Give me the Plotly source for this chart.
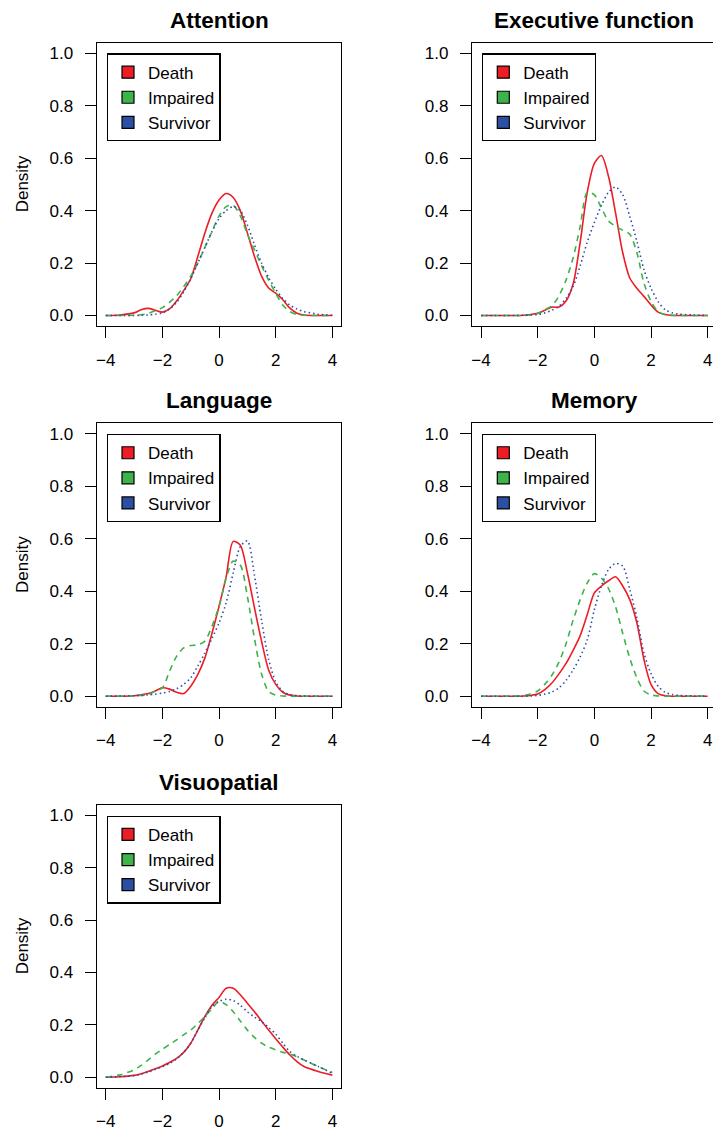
import plotly.graph_objects as go

FONT = "Liberation Sans, Arial, Helvetica, sans-serif"

# ---------------- data ----------------
panel_titles = ["Attention", "Executive function", "Language", "Memory", "Visuopatial"]
groups = ["Death", "Impaired", "Survivor"]
group_colors = ["#EE1C25", "#3DB34A", "#2D4FA3"]

x_grid = [-4, -3.5, -3, -2.75, -2.5, -2.25, -2, -1.75, -1.5, -1.25, -1, -0.75, -0.5, -0.25,
          0, 0.25, 0.5, 0.75, 1, 1.25, 1.5, 1.75, 2, 2.25, 2.5, 2.75, 3, 3.5, 4]

att_death    = [0, 0.002, 0.010, 0.022, 0.027, 0.020, 0.013, 0.025, 0.055, 0.095, 0.14, 0.225, 0.315, 0.39,
                0.44, 0.465, 0.45, 0.40, 0.315, 0.225, 0.15, 0.105, 0.085, 0.06, 0.028, 0.009, 0.002, 0, 0]
att_impaired = [0, 0, 0.001, 0.003, 0.008, 0.018, 0.03, 0.05, 0.075, 0.11, 0.15, 0.2, 0.26, 0.32,
                0.38, 0.415, 0.42, 0.38, 0.31, 0.25, 0.19, 0.135, 0.085, 0.04, 0.015, 0.004, 0.001, 0, 0]
att_survivor = [0, 0, 0, 0.001, 0.002, 0.005, 0.01, 0.025, 0.05, 0.09, 0.14, 0.2, 0.26, 0.32,
                0.37, 0.40, 0.415, 0.40, 0.345, 0.27, 0.2, 0.145, 0.1, 0.065, 0.04, 0.025, 0.015, 0.005, 0.001]

exe_death    = [0, 0, 0, 0, 0.001, 0.004, 0.009, 0.02, 0.032, 0.032, 0.055, 0.12, 0.28, 0.47,
                0.58, 0.61, 0.53, 0.39, 0.24, 0.143, 0.104, 0.073, 0.04, 0.013, 0.004, 0.001, 0, 0, 0]
exe_impaired = [0, 0, 0, 0, 0, 0.002, 0.008, 0.022, 0.037, 0.075, 0.135, 0.22, 0.34, 0.47,
                0.46, 0.41, 0.36, 0.34, 0.325, 0.31, 0.24, 0.124, 0.054, 0.015, 0.003, 0, 0, 0, 0]
exe_survivor = [0, 0, 0, 0, 0.001, 0.002, 0.004, 0.01, 0.02, 0.035, 0.065, 0.11, 0.19, 0.28,
                0.355, 0.42, 0.47, 0.49, 0.46, 0.378, 0.283, 0.175, 0.104, 0.053, 0.022, 0.01, 0.005, 0.002, 0]

lan_death    = [0, 0, 0.002, 0.005, 0.01, 0.02, 0.032, 0.027, 0.015, 0.01, 0.038, 0.083, 0.146, 0.24,
                0.343, 0.455, 0.59, 0.575, 0.47, 0.337, 0.21, 0.1, 0.045, 0.015, 0.004, 0.001, 0, 0, 0]
lan_impaired = [0, 0, 0.002, 0.003, 0.006, 0.02, 0.032, 0.095, 0.152, 0.184, 0.193, 0.196, 0.21, 0.267,
                0.343, 0.45, 0.515, 0.5, 0.38, 0.22, 0.085, 0.018, 0.004, 0.001, 0, 0, 0, 0, 0]
lan_survivor = [0, 0.001, 0.002, 0.003, 0.005, 0.008, 0.012, 0.018, 0.028, 0.045, 0.07, 0.115, 0.165, 0.22,
                0.28, 0.356, 0.47, 0.57, 0.592, 0.46, 0.29, 0.14, 0.055, 0.018, 0.006, 0.002, 0.001, 0, 0]

mem_death    = [0, 0, 0, 0, 0.001, 0.003, 0.008, 0.025, 0.05, 0.085, 0.125, 0.175, 0.231, 0.311,
                0.394, 0.42, 0.44, 0.455, 0.42, 0.368, 0.28, 0.14, 0.045, 0.01, 0.002, 0, 0, 0, 0]
mem_impaired = [0, 0, 0, 0.001, 0.003, 0.008, 0.02, 0.045, 0.08, 0.13, 0.2, 0.29, 0.368, 0.432,
                0.467, 0.45, 0.41, 0.34, 0.24, 0.145, 0.07, 0.02, 0.005, 0.001, 0, 0, 0, 0, 0]
mem_survivor = [0, 0, 0, 0, 0, 0.001, 0.003, 0.008, 0.016, 0.032, 0.06, 0.1, 0.15, 0.215,
                0.33, 0.42, 0.483, 0.506, 0.496, 0.407, 0.3, 0.165, 0.086, 0.038, 0.015, 0.006, 0.003, 0.001, 0]

vis_death    = [0, 0.002, 0.007, 0.013, 0.022, 0.032, 0.043, 0.056, 0.072, 0.095, 0.13, 0.18, 0.232, 0.275,
                0.305, 0.34, 0.34, 0.315, 0.283, 0.25, 0.215, 0.18, 0.147, 0.115, 0.085, 0.06, 0.041, 0.022, 0.008]
vis_impaired = [0, 0.009, 0.028, 0.045, 0.066, 0.088, 0.107, 0.125, 0.143, 0.162, 0.18, 0.205, 0.232, 0.262,
                0.29, 0.277, 0.25, 0.215, 0.18, 0.152, 0.13, 0.115, 0.105, 0.095, 0.089, 0.078, 0.066, 0.041, 0.018]
vis_survivor = [0, 0.002, 0.006, 0.012, 0.02, 0.03, 0.04, 0.053, 0.07, 0.095, 0.13, 0.18, 0.228, 0.27,
                0.29, 0.298, 0.293, 0.275, 0.25, 0.23, 0.213, 0.19, 0.165, 0.13, 0.098, 0.08, 0.066, 0.041, 0.015]

panel_series = [
    [att_death, att_impaired, att_survivor],
    [exe_death, exe_impaired, exe_survivor],
    [lan_death, lan_impaired, lan_survivor],
    [mem_death, mem_impaired, mem_survivor],
    [vis_death, vis_impaired, vis_survivor],
]

x_tickvals = [-4, -2, 0, 2, 4]
x_ticktext = ["\u22124", "\u22122", "0", "2", "4"]
y_tickvals = [0, 0.2, 0.4, 0.6, 0.8, 1.0]
y_ticktext = ["0.0", "0.2", "0.4", "0.6", "0.8", "1.0"]

# ---------------- layout geometry (pixels) ----------------
W, H = 713, 1131
col_left = [96.7, 472.0]
col_right = [340.7, 713.0]
row_top = [42.7, 423.3, 805.0]
row_bot = [326.0, 706.7, 1087.7]
px_per_unit = (332.3 - 105.7) / 8.0
line_styles = ["solid", "6px,5px", "1.5px,3px"]

fig = go.Figure()
layout_axes = {}
annotations = []

for p, title in enumerate(panel_titles):
    r, c = divmod(p, 2)
    k = "" if p == 0 else str(p + 1)
    xa, ya = "x" + k, "y" + k
    leg = "legend" + k
    x0 = -4.32
    x1 = x0 + (col_right[c] - col_left[c]) / px_per_unit
    for g in range(3):
        fig.add_trace(go.Scatter(
            x=x_grid, y=panel_series[p][g], mode="lines", xaxis=xa, yaxis=ya,
            line=dict(color=group_colors[g], width=1.6, dash=line_styles[g], shape="spline", smoothing=0.8),
            showlegend=False, hoverinfo="skip"))
    for g in range(3):
        fig.add_trace(go.Scatter(
            x=[None], y=[None], mode="markers", xaxis=xa, yaxis=ya, name=groups[g],
            marker=dict(symbol="square", size=12, color=group_colors[g], line=dict(color="black", width=1.2)),
            legend=leg, showlegend=True))
    xdom = [col_left[c] / W, min(col_right[c] / W, 1.0)]
    ydom = [1 - row_bot[r] / H, 1 - row_top[r] / H]
    common = dict(showline=True, linecolor="black", linewidth=1.4, ticks="outside", ticklen=11,
                  tickwidth=1.3, tickcolor="black", showgrid=False, zeroline=False,
                  tickfont=dict(family=FONT, size=17, color="black"), fixedrange=True)
    layout_axes["xaxis" + k] = dict(domain=xdom, range=[x0, x1], anchor=ya, mirror=True,
                                    tickvals=x_tickvals, ticktext=x_ticktext, ticklabelstandoff=7, **common)
    layout_axes["yaxis" + k] = dict(domain=ydom, range=[-0.04, 1.04], anchor=xa, mirror=(c == 0),
                                    tickvals=y_tickvals, ticktext=y_ticktext, ticklabelstandoff=8, **common)
    legend_top = row_top[r] + 10.6
    layout_axes[leg] = dict(x=(col_left[c] + 10.0) / W, y=1 - legend_top / H, xanchor="left", yanchor="top",
                            bgcolor="white", bordercolor="black", borderwidth=1.3,
                            font=dict(family=FONT, size=17, color="black"), tracegroupgap=0,
                            entrywidth=82, entrywidthmode="pixels",
                            itemclick=False, itemdoubleclick=False)
    cx = (col_left[c] + (col_left[c] + 8.64 * px_per_unit)) / 2
    annotations.append(dict(text="<b>" + title + "</b>", x=cx / W, y=1 - (row_top[r] - 22.5) / H,
                            xref="paper", yref="paper", showarrow=False, xanchor="center", yanchor="middle",
                            font=dict(family=FONT, size=22.5, color="black")))
    if c == 0:
        annotations.append(dict(text="Density", x=22 / W, y=1 - (row_top[r] + row_bot[r]) / 2 / H,
                                xref="paper", yref="paper", showarrow=False, textangle=-90,
                                xanchor="center", yanchor="middle",
                                font=dict(family=FONT, size=17, color="black")))

fig.update_layout(width=W, height=H, margin=dict(l=0, r=0, t=0, b=0, pad=0),
                  paper_bgcolor="white", plot_bgcolor="white", annotations=annotations,
                  font=dict(family=FONT, color="black"), **layout_axes)

fig.write_html("out.html", config={"displayModeBar": False})
